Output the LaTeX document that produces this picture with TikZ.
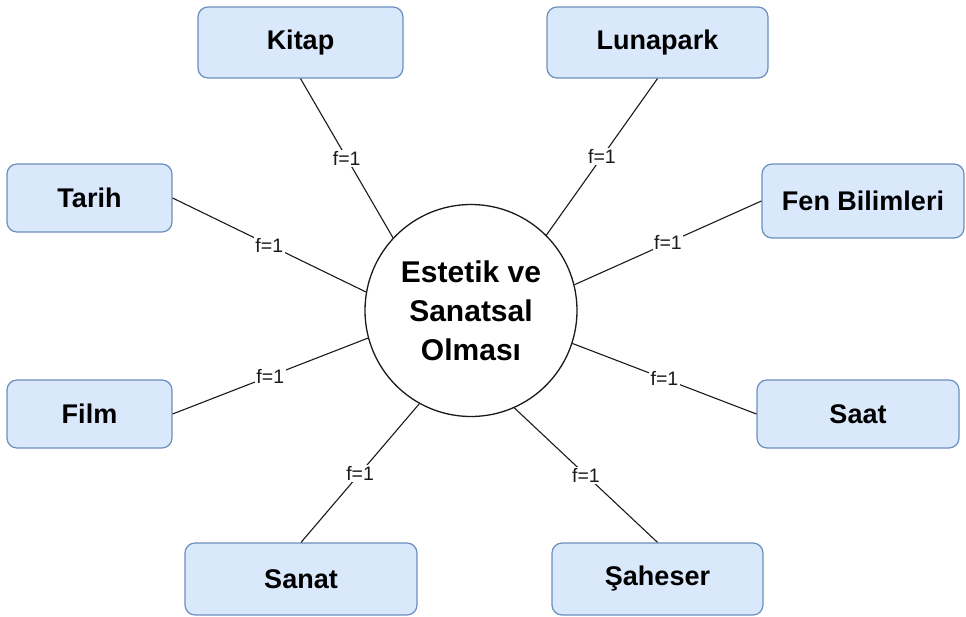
\documentclass[tikz,border=0pt]{standalone}
\usepackage{fontspec}
\setmainfont{Liberation Sans}
\definecolor{boxfill}{HTML}{DAE8FC}
\definecolor{boxedge}{HTML}{6C8EBF}
\definecolor{ink}{HTML}{1A1A1A}
\begin{document}
\begin{tikzpicture}[x=1pt,y=-1pt,
  topic/.style={draw=boxedge, fill=boxfill, rounded corners=10pt, line width=1.2pt,
    inner sep=0pt, font=\fontsize{27}{32}\selectfont\bfseries},
  hub/.style={circle, draw=ink, line width=1.3pt, fill=white, minimum size=212pt,
    inner sep=0pt, align=center, font=\fontsize{30}{39}\selectfont\bfseries},
  link/.style={draw=ink, line width=1.1pt},
  weight/.style={fill=white, inner sep=1.5pt, text=ink, font=\fontsize{19.5}{22}\selectfont}
]
\useasboundingbox (0,0) rectangle (966,616);

% central concept
\node[hub] (hub) at (471,310.5) {Estetik ve\\Sanatsal\\Olması};

% surrounding topics
\node[topic, minimum width=205pt, minimum height=71pt] (kitap) at (300.5,42.5) {Kitap};
\node[topic, minimum width=221pt, minimum height=71pt] (luna) at (657.5,42.5) {Lunapark};
\node[topic, minimum width=165pt, minimum height=68pt] (tarih) at (89.5,198) {Tarih};
\node[topic, minimum width=202pt, minimum height=74pt] (fen) at (863,201) {Fen Bilimleri};
\node[topic, minimum width=165pt, minimum height=68pt] (film) at (89.5,414) {Film};
\node[topic, minimum width=202pt, minimum height=68pt] (saat) at (858,414) {Saat};
\node[topic, minimum width=232pt, minimum height=72pt] (sanat) at (301,579) {Sanat};
\node[topic, minimum width=211pt, minimum height=72pt] (saheser) at (657.5,579) {Şaheser};

% weighted links
\draw[link] (kitap.south) -- (hub.137.5) node[weight, midway] {f=1};
\draw[link] (luna.south) -- (hub.45) node[weight, midway] {f=1};
\draw[link] (tarih.east) -- (hub.170) node[weight, midway] {f=1};
\draw[link] (fen.west) -- (hub.14) node[weight, midway] {f=1};
\draw[link] (film.east) -- (hub.195) node[weight, midway] {f=1};
\draw[link] (saat.west) -- (hub.342.4) node[weight, midway] {f=1};
\draw[link] (sanat.north) -- (hub.241.6) node[weight, midway] {f=1};
\draw[link] (saheser.north) -- (hub.294.5) node[weight, midway] {f=1};
\end{tikzpicture}
\end{document}
